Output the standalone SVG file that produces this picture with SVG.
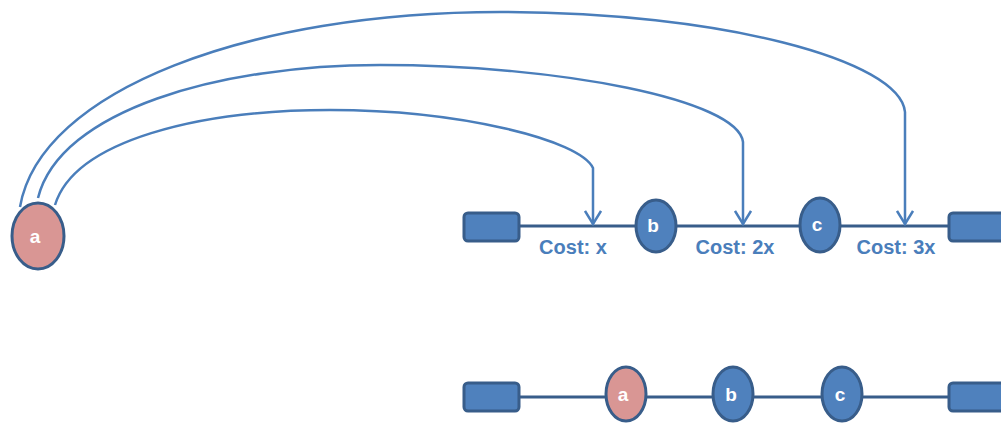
<svg xmlns="http://www.w3.org/2000/svg" width="1001" height="423" viewBox="0 0 1001 423">
  <style>
    .box { fill: #4F81BD; stroke: #385D8A; stroke-width: 3; }
    .node { fill: #4F81BD; stroke: #385D8A; stroke-width: 3; }
    .node.pink { fill: #D99694; }
    .lbl { font-family: "Liberation Sans", Arial, sans-serif; font-weight: bold; font-size: 19px; fill: #FFFFFF; text-anchor: middle; }
    .cost { font-family: "Liberation Sans", Arial, sans-serif; font-weight: bold; font-size: 20px; fill: #4A7EBB; text-anchor: middle; }
    .track { stroke: #385D8A; stroke-width: 3; fill: none; }
    .jump { stroke: #4A7EBB; stroke-width: 2.5; fill: none; marker-end: url(#open); }
  </style>
  <defs>
    <!-- open chevron arrowhead, drawn along +x -->
    <marker id="open" viewBox="0 0 16 18" refX="14" refY="9" markerWidth="16" markerHeight="18" markerUnits="userSpaceOnUse" orient="auto">
      <path d="M1,1 L14,9 L1,17" fill="none" stroke="#4A7EBB" stroke-width="2.5" stroke-linejoin="miter"/>
    </marker>
  </defs>

  <!-- rails -->
  <g id="rails">
    <line class="track" x1="519" y1="226" x2="949" y2="226"/>
    <line class="track" x1="519" y1="397" x2="949" y2="397"/>
  </g>

  <!-- jump connectors from a -->
  <g id="connectors">
    <path class="jump" d="M55,205 C75,140 200,110 330,110 C460,110 580,140 593,168 L593,224"/>
    <path class="jump" d="M38,198 C60,110 220,65 380,65 C560,65 738,100 743,142 L743,224"/>
    <path class="jump" d="M20,207 C40,90 250,12 500,12 C720,12 900,60 905,112 L905,224"/>
  </g>

  <!-- top row -->
  <g id="top-left-end"><rect class="box" x="464" y="213" width="55" height="28" rx="4"/></g>
  <g id="top-right-end"><rect class="box" x="949" y="213" width="60" height="28" rx="4"/></g>
  <g id="node-a-top">
    <ellipse class="node pink" cx="38" cy="236" rx="26" ry="33"/>
    <text class="lbl" x="35" y="243">a</text>
  </g>
  <g id="node-b-top">
    <ellipse class="node" cx="656" cy="226" rx="20" ry="26"/>
    <text class="lbl" x="653" y="232">b</text>
  </g>
  <g id="node-c-top">
    <ellipse class="node" cx="820" cy="225" rx="20" ry="27"/>
    <text class="lbl" x="817" y="231">c</text>
  </g>
  <g id="costs">
    <text class="cost" x="573" y="254">Cost: x</text>
    <text class="cost" x="735" y="254">Cost: 2x</text>
    <text class="cost" x="896" y="254">Cost: 3x</text>
  </g>

  <!-- bottom row -->
  <g id="bottom-left-end"><rect class="box" x="464" y="383" width="55" height="28" rx="4"/></g>
  <g id="bottom-right-end"><rect class="box" x="949" y="383" width="60" height="28" rx="4"/></g>
  <g id="node-a-bottom">
    <ellipse class="node pink" cx="626" cy="394" rx="20" ry="27"/>
    <text class="lbl" x="623" y="401">a</text>
  </g>
  <g id="node-b-bottom">
    <ellipse class="node" cx="733" cy="394" rx="20" ry="27"/>
    <text class="lbl" x="731" y="401">b</text>
  </g>
  <g id="node-c-bottom">
    <ellipse class="node" cx="842" cy="394" rx="20" ry="27"/>
    <text class="lbl" x="840" y="401">c</text>
  </g>
</svg>
